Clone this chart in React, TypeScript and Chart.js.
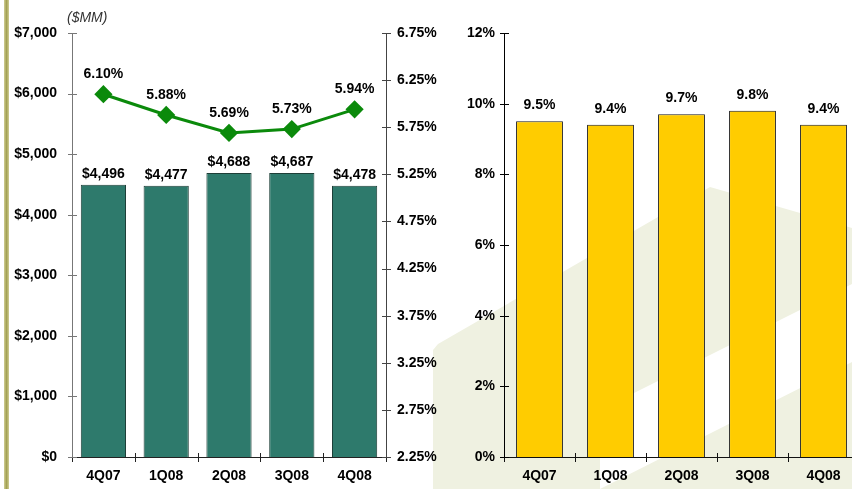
import React, { useEffect, useRef } from "react";
import { Chart, registerables } from "chart.js";

Chart.register(...registerables);

const categories = ["4Q07", "1Q08", "2Q08", "3Q08", "4Q08"];
const revenueValues = [4496, 4477, 4688, 4687, 4478];
const marginValues = [6.1, 5.88, 5.69, 5.73, 5.94];
const ratioValues = [9.5, 9.4, 9.7, 9.8, 9.4];

const leftAxisMin = 0;
const leftAxisMax = 7000;
const leftAxisStep = 1000;
const pctAxisMin = 2.25;
const pctAxisMax = 6.75;
const pctAxisStep = 0.5;
const ratioAxisMin = 0;
const ratioAxisMax = 12;
const ratioAxisStep = 2;

const FONT = "'Liberation Sans', Arial, Helvetica, sans-serif";

function fmtLabel(kind: string, v: number): string {
  if (kind === "money") return "$" + v.toLocaleString("en-US");
  if (kind === "pct2") return v.toFixed(2) + "%";
  return v.toFixed(1) + "%";
}

const crossAxesPlugin = {
  id: "crossAxes",
  afterDraw(chart: any, _args: any, opts: any) {
    const ctx = chart.ctx;
    const { left, right, top, bottom } = chart.chartArea;
    const colors = (opts && opts.colors) || {};
    ctx.save();
    ctx.lineWidth = 1;
    Object.keys(chart.scales).forEach((id) => {
      const s = chart.scales[id];
      ctx.strokeStyle = colors[id] || "#000";
      ctx.beginPath();
      if (s.isHorizontal()) {
        const y = Math.round(bottom) + 0.5;
        ctx.moveTo(left, y);
        ctx.lineTo(right, y);
        const n = s.ticks.length;
        const step = s.getPixelForValue(1) - s.getPixelForValue(0);
        for (let i = 0; i <= n; i++) {
          const x = Math.round(s.getPixelForValue(i) - step / 2) + 0.5;
          ctx.moveTo(x, y - 4.5);
          ctx.lineTo(x, y + 4.5);
        }
      } else {
        const x = Math.round(s.position === "left" ? left : right) + 0.5;
        ctx.moveTo(x, top);
        ctx.lineTo(x, bottom);
        s.ticks.forEach((t: any) => {
          const y = Math.round(s.getPixelForValue(t.value)) + 0.5;
          ctx.moveTo(x - 4.5, y);
          ctx.lineTo(x + 4.5, y);
        });
      }
      ctx.stroke();
    });
    if (opts && opts.unitText) {
      const ys = chart.scales.y;
      ctx.font = `italic 14px ${FONT}`;
      ctx.fillStyle = "#333";
      ctx.textAlign = "left";
      ctx.textBaseline = "middle";
      ctx.fillText(opts.unitText, ys.right - 5, top - 15);
    }
    ctx.restore();
  },
};

const valueLabelPlugin = {
  id: "valueLabels",
  afterDatasetsDraw(chart: any) {
    const ctx = chart.ctx;
    chart.data.datasets.forEach((ds: any, i: number) => {
      const meta = chart.getDatasetMeta(i);
      ctx.save();
      ctx.font = `bold 14px ${FONT}`;
      ctx.fillStyle = "#000";
      ctx.textAlign = "center";
      ctx.textBaseline = "alphabetic";
      meta.data.forEach((el: any, j: number) => {
        ctx.fillText(fmtLabel(ds.labelKind, ds.data[j]), el.x, el.y - ds.labelGap);
      });
      ctx.restore();
    });
  },
};

const tickFont = { family: FONT, size: 14, weight: "bold" as const };

export default function App() {
  const leftRef = useRef<HTMLCanvasElement>(null);
  const rightRef = useRef<HTMLCanvasElement>(null);

  useEffect(() => {
    const c1 = new Chart(leftRef.current as HTMLCanvasElement, {
      type: "bar",
      data: {
        labels: categories,
        datasets: [
          {
            type: "line",
            data: marginValues,
            yAxisID: "y1",
            borderColor: "#0B8A0B",
            backgroundColor: "#0B8A0B",
            borderWidth: 3,
            pointStyle: "rectRot",
            pointRadius: 7,
            pointBackgroundColor: "#0B8A0B",
            pointBorderColor: "#0B8A0B",
            order: 0,
            labelKind: "pct2",
            labelGap: 16,
          } as any,
          {
            type: "bar",
            data: revenueValues,
            yAxisID: "y",
            backgroundColor: "#2E7A6C",
            borderColor: "#1E3F38",
            borderWidth: 1,
            categoryPercentage: 1,
            barPercentage: 0.72,
            order: 1,
            labelKind: "money",
            labelGap: 7,
          } as any,
        ],
      },
      options: {
        responsive: false,
        animation: false,
        layout: { padding: { top: 33, bottom: 0, left: 0, right: 0 } },
        plugins: {
          legend: { display: false },
          tooltip: { enabled: false },
          crossAxes: { colors: { x: "#222", y: "#777", y1: "#444" }, unitText: "($MM)" },
        } as any,
        scales: {
          x: {
            grid: { display: false, drawTicks: false },
            border: { display: false },
            ticks: { font: tickFont, color: "#000", padding: 11 },
            afterFit: (s: any) => {
              s.height = 32;
            },
          },
          y: {
            position: "left",
            min: leftAxisMin,
            max: leftAxisMax,
            grid: { display: false, drawTicks: false },
            border: { display: false },
            ticks: {
              stepSize: leftAxisStep,
              font: tickFont,
              color: "#000",
              padding: 15,
              callback: (v: any) => "$" + Number(v).toLocaleString("en-US"),
            },
            afterFit: (s: any) => {
              s.width = 72;
            },
          },
          y1: {
            position: "right",
            min: pctAxisMin,
            max: pctAxisMax,
            grid: { display: false, drawTicks: false },
            border: { display: false },
            ticks: {
              stepSize: pctAxisStep,
              font: tickFont,
              color: "#000",
              padding: 11,
              callback: (v: any) => Number(v).toFixed(2) + "%",
            },
            afterFit: (s: any) => {
              s.width = 64;
            },
          },
        },
      },
      plugins: [crossAxesPlugin, valueLabelPlugin],
    });

    const c2 = new Chart(rightRef.current as HTMLCanvasElement, {
      type: "bar",
      data: {
        labels: categories,
        datasets: [
          {
            data: ratioValues,
            backgroundColor: "#FFCC00",
            borderColor: "#1a1a1a",
            borderWidth: 1,
            categoryPercentage: 1,
            barPercentage: 0.66,
            labelKind: "pct1",
            labelGap: 12,
          } as any,
        ],
      },
      options: {
        responsive: false,
        animation: false,
        layout: { padding: { top: 33, bottom: 0, left: 0, right: 11 } },
        plugins: {
          legend: { display: false },
          tooltip: { enabled: false },
          crossAxes: { colors: { x: "#111", y: "#000" } },
        } as any,
        scales: {
          x: {
            grid: { display: false, drawTicks: false },
            border: { display: false },
            ticks: { font: tickFont, color: "#000", padding: 11 },
            afterFit: (s: any) => {
              s.height = 32;
            },
          },
          y: {
            position: "left",
            min: ratioAxisMin,
            max: ratioAxisMax,
            grid: { display: false, drawTicks: false },
            border: { display: false },
            ticks: {
              stepSize: ratioAxisStep,
              font: tickFont,
              color: "#000",
              padding: 9,
              callback: (v: any) => v + "%",
            },
            afterFit: (s: any) => {
              s.width = 54;
            },
          },
        },
      },
      plugins: [crossAxesPlugin, valueLabelPlugin],
    });

    return () => {
      c1.destroy();
      c2.destroy();
    };
  }, []);

  return (
    <div
      style={{
        position: "fixed",
        left: 0,
        top: 0,
        width: 852,
        height: 489,
        overflow: "hidden",
        background: "#fff",
      }}
    >
      <svg
        width={852}
        height={489}
        style={{ position: "absolute", left: 0, top: 0 }}
      >
        <polygon points="433,489 433,350 438,344 710,187 852,228 852,489" fill="#EFF1E1" />
        <polygon points="600,410 852,284 852,362 600,489" fill="#FFFFFF" />
      </svg>
      <div
        style={{
          position: "absolute",
          left: 4,
          top: 0,
          width: 5,
          height: 489,
          background: "linear-gradient(to right, #cfcd94, #a3a153, #cfcd94)",
        }}
      />
      <canvas
        ref={leftRef}
        width={450}
        height={489}
        style={{ position: "absolute", left: 0, top: 0, width: 450, height: 489 }}
      />
      <canvas
        ref={rightRef}
        width={420}
        height={489}
        style={{ position: "absolute", left: 450, top: 0, width: 420, height: 489 }}
      />
    </div>
  );
}
